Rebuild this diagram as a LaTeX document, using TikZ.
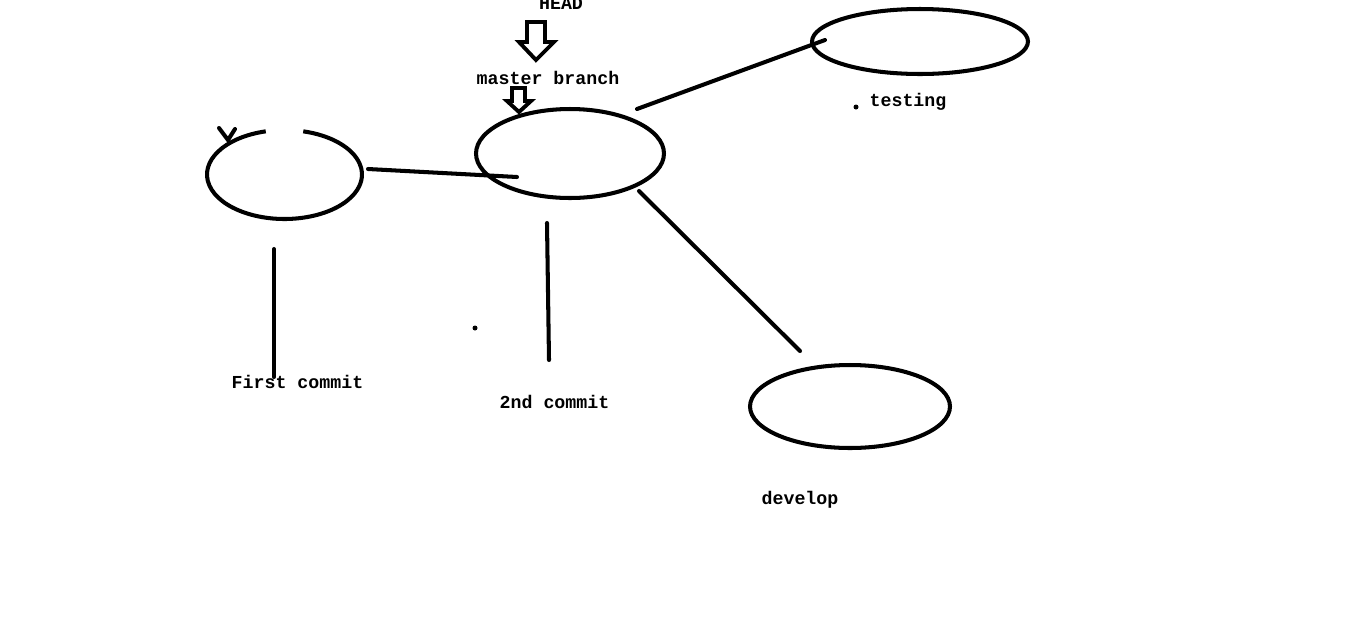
\documentclass[tikz,border=0pt]{standalone}
\usepackage{fontspec}
\newfontfamily\paintfont{Liberation Mono}
\usetikzlibrary{shapes.geometric}
\tikzset{
  stroke/.style={line width=2.3pt,line cap=round},
  commit/.style={ellipse,draw,line width=2.3pt,inner sep=0pt},
  lbl/.style={font=\paintfont\bfseries\fontsize{10.4}{12}\selectfont,anchor=base,inner sep=0pt}
}
\begin{document}
\begin{tikzpicture}[x=0.02cm,y=0.02cm]
\useasboundingbox (0,0) rectangle (1345,-623);
\draw[line width=2.2pt,line join=miter] (512,-88) -- (525,-88) -- (525,-101) -- (531,-101) -- (519,-112) -- (507,-101) -- (512,-101) -- cycle;
\node[commit,draw=none,minimum width=3.1cm,minimum height=1.78cm] (first) at (284.5,-174.5) {};
\draw[stroke,line cap=butt] (first.center) ++(104:1.55cm and 0.89cm) arc[start angle=104,end angle=436,x radius=1.55cm,y radius=0.89cm];
\draw[stroke] (219,-128) -- (228,-140) -- (235,-129);
\node[commit,fill=white,minimum width=3.76cm,minimum height=1.78cm] (master) at (570,-153.5) {};
\node[commit,minimum width=4.32cm,minimum height=1.30cm] (testing) at (920,-41.5) {};
\node[commit,minimum width=4.0cm,minimum height=1.66cm] (develop) at (850,-406.5) {};
\draw[line width=2.2pt,line join=miter] (527,-22) -- (545,-22) -- (545,-42) -- (554,-42) -- (536,-60) -- (519,-42) -- (527,-42) -- cycle;
\coordinate (c1a) at (368,-169);
\coordinate (c1b) at (517,-177);
\coordinate (c2a) at (637,-109);
\coordinate (c2b) at (825,-40);
\coordinate (c3a) at (639,-191);
\coordinate (c3b) at (800,-351);
\coordinate (c4a) at (274,-249);
\coordinate (c4b) at (274,-377);
\coordinate (c5a) at (547,-223);
\coordinate (c5b) at (549,-360);
\draw[stroke] (c1a) -- (c1b);
\draw[stroke] (c2a) -- (c2b);
\draw[stroke] (c3a) -- (c3b);
\draw[stroke] (c4a) -- (c4b);
\draw[stroke] (c5a) -- (c5b);
\fill (856,-107) circle[radius=0.05cm];
\fill (475,-328) circle[radius=0.05cm];
\node[lbl] (headlbl) at (561,-9) {HEAD};
\node[lbl] (masterlbl) at (548,-84) {master branch};
\node[lbl] (testinglbl) at (908,-106) {testing};
\node[lbl] (firstlbl) at (297.5,-388) {First commit};
\node[lbl] (secondlbl) at (554.5,-408) {2nd commit};
\node[lbl] (developlbl) at (800,-504) {develop};
\end{tikzpicture}
\end{document}
